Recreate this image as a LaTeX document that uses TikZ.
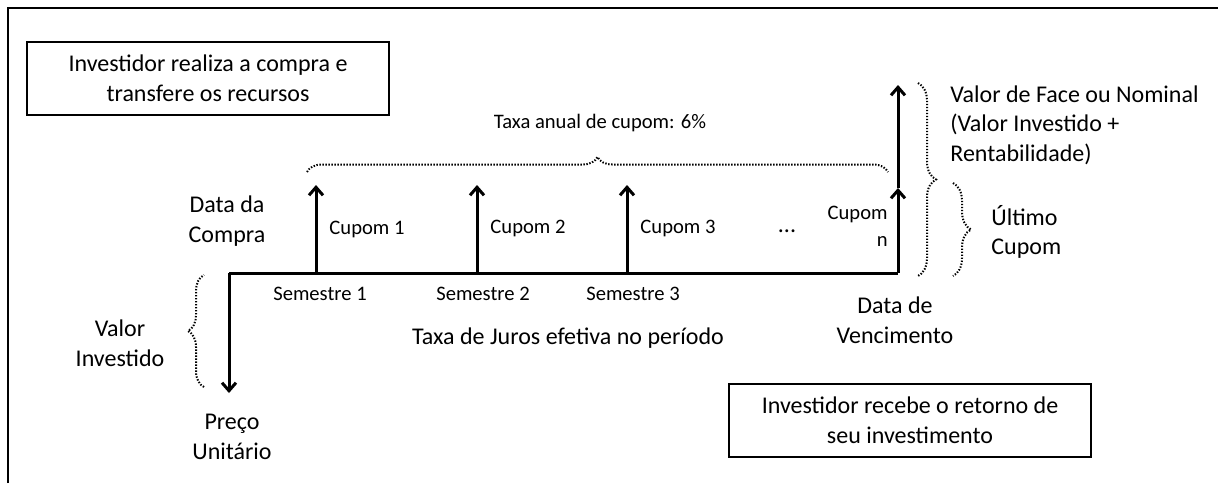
\documentclass[tikz,border=0pt]{standalone}
\usepackage{fontspec}
\setmainfont{Carlito}
\usetikzlibrary{arrows.meta,decorations.pathreplacing,positioning}

\begin{document}
\begin{tikzpicture}[x=0.5pt,y=-0.5pt,>={Straight Barb[length=4pt,width=7pt]},
  txt/.style={font=\fontsize{12}{14.8}\selectfont,align=center,inner sep=0pt},
  sml/.style={font=\fontsize{10.3}{13.5}\selectfont,align=center,inner sep=0pt},
  infobox/.style={draw,line width=1.3pt,minimum width=181pt,minimum height=36.5pt,txt},
  flow/.style={->,line width=1.5pt},
  dotbrace/.style={decorate,decoration={brace,amplitude=#1},line width=1pt,dash pattern=on 0.7pt off 0.8pt}]
  \useasboundingbox (0,0) rectangle (1218,483);
  \draw[line width=1pt] (8,483) -- (8,8) -- (1218,8);

  % boxes
  \node[infobox] (buy) at (208,78.5) {Investidor realiza a compra e\\transfere os recursos};
  \node[infobox] (ret) at (910,420.5) {Investidor recebe o retorno de\\seu investimento};

  % time line
  \coordinate (t0) at (229,273);
  \coordinate (s1) at (316,273);
  \coordinate (s2) at (477,273);
  \coordinate (s3) at (627,273);
  \coordinate (tn) at (898,273);
  \coordinate (pu) at (229,393);
  \coordinate (c1) at (316,185);
  \coordinate (c2) at (477,185);
  \coordinate (c3) at (627,185);
  \coordinate (cn) at (898,188);
  \coordinate (vf) at (898,85);
  \draw[line width=1.5pt] (t0) -- (tn);
  \draw[flow] (t0) -- (pu);
  \draw[flow] (s1) -- (c1);
  \draw[flow] (s2) -- (c2);
  \draw[flow] (s3) -- (c3);
  \draw[flow] (tn) -- (cn);
  \draw[flow] (cn) -- (vf);

  % braces
  \draw[dotbrace=7.5pt] (307,172) -- (888,172);
  \draw[dotbrace=8pt] (204,387) -- (204,275);
  \draw[dotbrace=9pt] (918,83) -- (918,276);
  \draw[dotbrace=9pt] (953,183) -- (953,276);

  % labels
  \node[sml] (taxa) at (600,123) {Taxa anual de cupom: 6\%};
  \node[txt] (compra) at (227,221) {Data da\\Compra};
  \node[sml] (cup1) at (367,229) {Cupom 1};
  \node[sml] (cup2) at (528,228) {Cupom 2};
  \node[sml] (cup3) at (678,228) {Cupom 3};
  \node[txt] (dots) at (787,231) {...};
  \node[sml,anchor=east,align=right] (cupn) at (888,226) {Cupom\\n};
  \node[sml] (sem1) at (320,294) {Semestre 1};
  \node[sml] (sem2) at (483,294) {Semestre 2};
  \node[sml] (sem3) at (633,294) {Semestre 3};
  \node[txt] (juros) at (568,338) {Taxa de Juros efetiva no período};
  \node[txt] (vinv) at (120,343) {Valor\\Investido};
  \node[txt] (preco) at (232,437) {Preço\\Unitário};
  \node[txt] (venc) at (895,320) {Data de\\Vencimento};
  \node[txt,anchor=west,align=left] (face) at (950,125) {Valor de Face ou Nominal\\(Valor Investido +\\Rentabilidade)};
  \node[txt,anchor=west,align=left] (ult) at (991,232) {Último\\Cupom};
\end{tikzpicture}
\end{document}
